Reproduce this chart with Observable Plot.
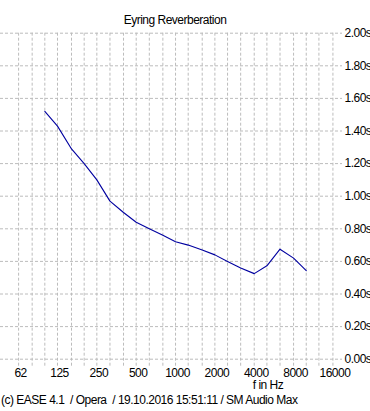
<!DOCTYPE html>
<html>
<head>
<meta charset="utf-8">
<script src="https://cdn.jsdelivr.net/npm/d3@7"></script>
<script src="https://cdn.jsdelivr.net/npm/@observablehq/plot@0.6"></script>
<style>
  html, body { margin: 0; padding: 0; background: #fff; }
  #wrap { width: 370px; height: 411px; position: relative; overflow: hidden;
          font-family: "Liberation Sans", Arial, sans-serif;
          font-size: 12px; letter-spacing: -0.5px; color: #000; }
  .title { width: 350px; height: 32px; box-sizing: border-box; padding-top: 14px;
           line-height: 13px; text-align: center; white-space: nowrap; }
  .xlabel { height: 11px; line-height: 11px; width: 536px; text-align: center; white-space: nowrap; }
  .footer { height: 19px; line-height: 19px; padding-left: 1px; white-space: pre; }
  svg { display: block; }
</style>
</head>
<body>
<div id="wrap">
  <div class="title" id="title"></div>
  <div id="chart"></div>
  <div class="xlabel" id="xlabel"></div>
  <div class="footer" id="footer"></div>
</div>
<script>
// ---- data ----
const titleText = "Eyring Reverberation";
const xAxisLabel = "f in Hz";
const footerText = "(c) EASE 4.1  / Opera  / 19.10.2016 15:51:11 / SM Audio Max";

const bandFreqs = [100, 125, 160, 200, 250, 315, 400, 500, 630, 800, 1000, 1250, 1600, 2000, 2500, 3150, 4000, 5000, 6300, 8000, 10000];
const rtValues  = [1.52, 1.43, 1.29, 1.20, 1.10, 0.97, 0.90, 0.84, 0.80, 0.76, 0.72, 0.70, 0.67, 0.64, 0.60, 0.56, 0.525, 0.573, 0.675, 0.62, 0.543];

const gridFreqs = [63, 80, 100, 125, 160, 200, 250, 315, 400, 500, 630, 800, 1000, 1250, 1600, 2000, 2500, 3150, 4000, 5000, 6300, 8000, 10000, 12500, 16000];
const octaveTicks  = [63, 125, 250, 500, 1000, 2000, 4000, 8000, 16000];
const octaveLabels = ["62", "125", "250", "500", "1000", "2000", "4000", "8000", "16000"];
const yTicks = [0, 0.2, 0.4, 0.6, 0.8, 1.0, 1.2, 1.4, 1.6, 1.8, 2.0];

const data = bandFreqs.map((f, i) => ({f, rt: rtValues[i]}));

document.getElementById("title").textContent = titleText;
document.getElementById("xlabel").textContent = xAxisLabel;
document.getElementById("footer").textContent = footerText;

const gridColor = "#bcbcbc";
const chart = Plot.plot({
  width: 370,
  height: 348,
  marginLeft: 0,
  marginRight: 28,
  marginTop: 0.7,
  marginBottom: 21.3,
  style: {
    fontFamily: '"Liberation Sans", Arial, sans-serif',
    fontSize: "12px",
    overflow: "visible",
    background: "transparent",
    color: "#000"
  },
  x: {type: "log", domain: [45.8, 18940], axis: null},
  y: {domain: [0, 2], axis: null},
  marks: [
    Plot.ruleY(yTicks, {stroke: gridColor, strokeDasharray: "3,2", strokeWidth: 1}),
    Plot.ruleX(gridFreqs, {stroke: gridColor, strokeDasharray: "3,2", strokeWidth: 1, insetBottom: -7}),
    Plot.text(yTicks, {y: d => d, text: d => d.toFixed(2) + "s", frameAnchor: "right",
      textAnchor: "start", dx: 2, fill: "#000", style: "letter-spacing:-0.7px"}),
    Plot.text(octaveTicks, {x: d => d, text: (d, i) => octaveLabels[i], frameAnchor: "bottom",
      lineAnchor: "top", dy: 9, dx: 2, fill: "#000", style: "letter-spacing:-0.5px"}),
    Plot.line(data, {x: "f", y: "rt", stroke: "#0000a0", strokeWidth: 1.1})
  ]
});
document.getElementById("chart").appendChild(chart);
</script>
</body>
</html>
